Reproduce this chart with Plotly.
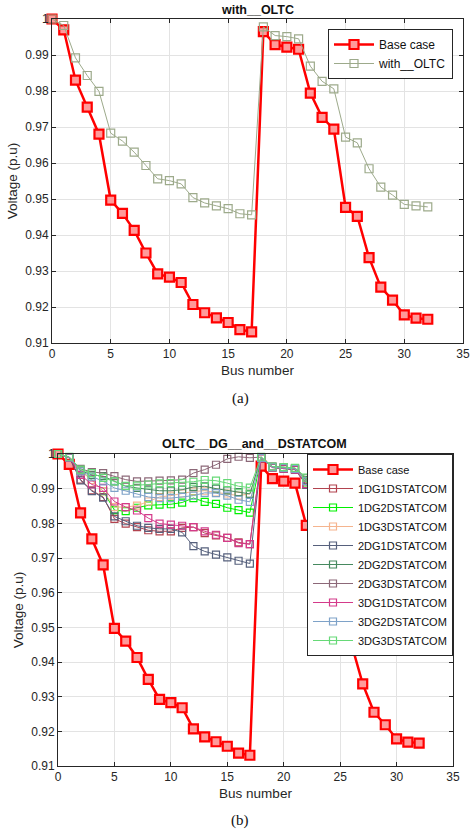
import plotly.graph_objects as go

# bus index (0..32) of the 33-bus feeder
bus = list(range(33))

base_case = [1.0, 0.997, 0.983, 0.9755, 0.968, 0.9497, 0.946, 0.9413, 0.935, 0.9292,
             0.9283, 0.9268, 0.9207, 0.9184, 0.917, 0.9157, 0.9137, 0.9131, 0.9965, 0.9929,
             0.9922, 0.9916, 0.9794, 0.9727, 0.9694, 0.9477, 0.9452, 0.9337, 0.9255, 0.9219,
             0.9178, 0.9169, 0.9166]

with_oltc = [1.0, 0.9982, 0.9892, 0.9843, 0.9799, 0.9683, 0.9661, 0.963, 0.9593, 0.9556,
             0.9551, 0.9542, 0.9504, 0.9489, 0.9481, 0.9473, 0.9459, 0.9456, 0.9978, 0.9954,
             0.9951, 0.9945, 0.9869, 0.9827, 0.9806, 0.9672, 0.9656, 0.9584, 0.9533, 0.9511,
             0.9485, 0.9481, 0.9478]

dg1_st1 = [1.0, 0.999, 0.9926, 0.9895, 0.9876, 0.9813, 0.9799, 0.9789, 0.978, 0.9777,
           0.9777, 0.9787, 0.9789, 0.9772, 0.9765, 0.9758, 0.9745, 0.974, 0.9988, 0.9961,
           0.9958, 0.9955, 0.9912, 0.989, 0.988, 0.985, 0.9845, 0.983, 0.982, 0.9815,
           0.981, 0.9808, 0.9807]
dg1_st2 = [1.0, 0.999, 0.9952, 0.9925, 0.9893, 0.9838, 0.9835, 0.9845, 0.9852, 0.9854,
           0.9855, 0.986, 0.9873, 0.9862, 0.9856, 0.9845, 0.9838, 0.9831, 0.9989, 0.9962,
           0.9959, 0.9956, 0.9918, 0.9895, 0.9885, 0.9856, 0.985, 0.9836, 0.9826, 0.982,
           0.9815, 0.9813, 0.9812]
dg1_st3 = [1.0, 0.999, 0.9952, 0.9925, 0.9893, 0.9847, 0.9847, 0.9851, 0.9863, 0.9876,
           0.988, 0.9886, 0.9892, 0.9894, 0.9889, 0.9886, 0.988, 0.9885, 0.999, 0.9963,
           0.996, 0.9957, 0.992, 0.9897, 0.9887, 0.9858, 0.9852, 0.9838, 0.9828, 0.9822,
           0.9817, 0.9815, 0.9814]
dg2_st1 = [1.0, 0.999, 0.9924, 0.9893, 0.9874, 0.982, 0.9806, 0.9793, 0.9787, 0.9784,
           0.9784, 0.9774, 0.9734, 0.9719, 0.971, 0.9702, 0.9692, 0.9684, 0.9988, 0.9961,
           0.9958, 0.9955, 0.9911, 0.9889, 0.9879, 0.9849, 0.9844, 0.9829, 0.9819, 0.9814,
           0.9809, 0.9807, 0.9806]
dg2_st2 = [1.0, 0.999, 0.9952, 0.994, 0.9936, 0.9921, 0.9907, 0.9902, 0.9897, 0.9894,
           0.9894, 0.9897, 0.9905, 0.9907, 0.99, 0.9895, 0.989, 0.9885, 0.999, 0.9963,
           0.9961, 0.9958, 0.9925, 0.99, 0.989, 0.986, 0.9855, 0.984, 0.983, 0.9825,
           0.982, 0.9818, 0.9817]
dg2_st3 = [1.0, 0.999, 0.9957, 0.9948, 0.9945, 0.9936, 0.9926, 0.9921, 0.9921, 0.9923,
           0.9924, 0.9926, 0.9945, 0.9955, 0.9969, 0.9986, 0.9992, 0.9989, 0.9991, 0.9964,
           0.9962, 0.9959, 0.993, 0.9905, 0.9895, 0.9865, 0.986, 0.9845, 0.9835, 0.983,
           0.9825, 0.9823, 0.9822]
dg3_st1 = [1.0, 0.999, 0.994, 0.9912, 0.9902, 0.9863, 0.9847, 0.9837, 0.9815, 0.9799,
           0.9796, 0.9793, 0.9789, 0.9777, 0.9767, 0.9758, 0.9743, 0.974, 0.9988, 0.9961,
           0.9958, 0.9955, 0.9913, 0.989, 0.988, 0.985, 0.9845, 0.983, 0.982, 0.9815,
           0.981, 0.9808, 0.9807]
dg3_st2 = [1.0, 0.999, 0.995, 0.9935, 0.9921, 0.9902, 0.9894, 0.9886, 0.9876, 0.9873,
           0.9873, 0.9876, 0.988, 0.9888, 0.9887, 0.988, 0.9868, 0.9862, 0.9989, 0.9962,
           0.996, 0.9957, 0.9922, 0.9898, 0.9888, 0.9858, 0.9853, 0.9838, 0.9828, 0.9823,
           0.9818, 0.9816, 0.9815]
dg3_st3 = [1.0, 0.9992, 0.9955, 0.9945, 0.9931, 0.9921, 0.9908, 0.9909, 0.9912, 0.9915,
           0.9916, 0.9917, 0.992, 0.9925, 0.9923, 0.9916, 0.9907, 0.9903, 0.9992, 0.9964,
           0.9962, 0.996, 0.9932, 0.9906, 0.9896, 0.9866, 0.9861, 0.9846, 0.9836, 0.9831,
           0.9826, 0.9824, 0.9823]

dg_names = ["1DG1DSTATCOM", "1DG2DSTATCOM", "1DG3DSTATCOM",
            "2DG1DSTATCOM", "2DG2DSTATCOM", "2DG3DSTATCOM",
            "3DG1DSTATCOM", "3DG2DSTATCOM", "3DG3DSTATCOM"]
dg_series = [dg1_st1, dg1_st2, dg1_st3, dg2_st1, dg2_st2, dg2_st3, dg3_st1, dg3_st2, dg3_st3]
dg_colors = ["#B2434F", "#00F000", "#F5B48E", "#56607C", "#46895F",
             "#8C6878", "#D43A8A", "#7EA2C8", "#66D977"]

AX = "#262626"
FONT = "Liberation Sans, Arial, sans-serif"
SERIF = "Liberation Serif, Times New Roman, serif"

fig = go.Figure()

base_style = dict(mode="lines+markers", name="Base case",
                  line=dict(color="#FF0000", width=2.5),
                  marker=dict(symbol="square", size=9, color="#FF9A9A",
                              line=dict(color="#FF0000", width=2.2)),
                  cliponaxis=False)

# (a) base case vs OLTC
fig.add_trace(go.Scatter(x=bus, y=base_case, xaxis="x", yaxis="y", legend="legend", **base_style))
fig.add_trace(go.Scatter(x=bus, y=with_oltc, xaxis="x", yaxis="y", legend="legend",
                         mode="lines+markers", name="with__OLTC",
                         line=dict(color="#9DAA8B", width=1),
                         marker=dict(symbol="square-open", size=8,
                                     line=dict(color="#9DAA8B", width=1.2)),
                         cliponaxis=False))

# (b) base case vs DG + DSTATCOM
fig.add_trace(go.Scatter(x=bus, y=base_case, xaxis="x2", yaxis="y2", legend="legend2", **base_style))
for name, vals, col in zip(dg_names, dg_series, dg_colors):
    fig.add_trace(go.Scatter(x=bus, y=vals, xaxis="x2", yaxis="y2", legend="legend2",
                             mode="lines+markers", name=name,
                             line=dict(color=col, width=1),
                             marker=dict(symbol="square-open", size=7,
                                         line=dict(color=col, width=1.2)),
                             cliponaxis=False))

W, H = 474, 831

def xax(domain, anchor):
    return dict(domain=domain, anchor=anchor, range=[0, 35], dtick=5, automargin=False,
                showgrid=True, gridcolor="#E3E3E3", zeroline=False,
                showline=True, linecolor=AX, linewidth=1, mirror="ticks",
                ticks="inside", ticklen=4, tickcolor=AX,
                tickfont=dict(size=12, color=AX),
                title=dict(text="Bus number", font=dict(size=13.5, color=AX), standoff=5))

def yax(domain, anchor):
    return dict(domain=domain, anchor=anchor, range=[0.91, 1.0], dtick=0.01, automargin=False,
                showgrid=True, gridcolor="#E3E3E3", zeroline=False,
                showline=True, linecolor=AX, linewidth=1, mirror="ticks",
                ticks="inside", ticklen=4, tickcolor=AX,
                tickfont=dict(size=12, color=AX),
                title=dict(text="Voltage (p.u)", font=dict(size=13.5, color=AX), standoff=4))

def label(text, px, py, size, family=FONT):
    return dict(text=text, x=px / W, y=1 - py / H, xref="paper", yref="paper",
                xanchor="center", yanchor="middle", showarrow=False,
                font=dict(family=family, size=size, color="#111111"))

fig.update_layout(
    width=W, height=H,
    margin=dict(l=0, r=0, t=0, b=0, autoexpand=False),
    paper_bgcolor="white", plot_bgcolor="white",
    font=dict(family=FONT, color=AX),
    xaxis=xax([52 / W, 463 / W], "y"),
    yaxis=yax([1 - 343 / H, 1 - 19 / H], "x"),
    xaxis2=xax([58 / W, 453 / W], "y2"),
    yaxis2=yax([1 - 766 / H, 1 - 454 / H], "x2"),
    legend=dict(x=453 / W, xanchor="right", y=1 - 29 / H, yanchor="top",
                bgcolor="white", bordercolor=AX, borderwidth=1,
                font=dict(size=12, color="#111111"), itemwidth=40),
    legend2=dict(x=453 / W, xanchor="right", y=1 - 454 / H, yanchor="top",
                 bgcolor="white", bordercolor=AX, borderwidth=1,
                 font=dict(size=11, color="#111111"), itemwidth=40),
    annotations=[
        label("<b>with__OLTC</b>", 257, 10, 12.5),
        label("<b>OLTC__DG__and__DSTATCOM</b>", 254, 444, 12.5),
        label("(a)", 240, 399, 15, SERIF),
        label("(b)", 240, 820, 15, SERIF),
    ],
)

# page body has a default 8px margin; drop it so the figure fills the window exactly
fig.write_html("out.html", config={"displayModeBar": False},
               post_script="document.body.style.margin='0';document.body.style.overflow='hidden';")
